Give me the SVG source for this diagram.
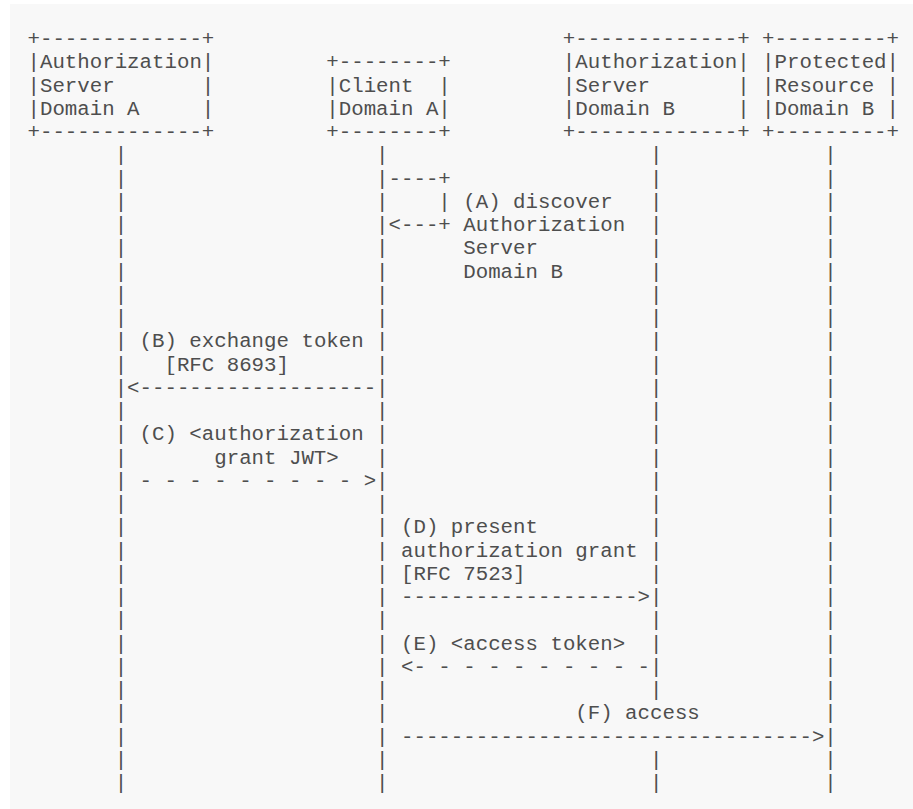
<svg xmlns="http://www.w3.org/2000/svg" width="913" height="809" viewBox="0 0 913 809" xml:space="preserve">
<style>
text{font-family:"Liberation Mono","DejaVu Sans Mono",monospace;font-size:20.75px;fill:#4e4e4e;white-space:pre}
</style>
<rect width="913" height="809" fill="#ffffff"/>
<rect x="10" y="4" width="903" height="805" fill="#f8f8f8"/>
<g id="as-domain-a">
<text x="27.5" y="45">+-------------+</text>
<text x="27.5" y="68.25">|Authorization|</text>
<text x="27.5" y="91.5">|Server       |</text>
<text x="27.5" y="114.75">|Domain A     |</text>
<text x="27.5" y="138">+-------------+</text>
</g>
<g id="client-domain-a">
<text x="326.3" y="68.25">+--------+</text>
<text x="326.3" y="91.5">|Client  |</text>
<text x="326.3" y="114.75">|Domain A|</text>
<text x="326.3" y="138">+--------+</text>
</g>
<g id="as-domain-b">
<text x="562.85" y="45">+-------------+</text>
<text x="562.85" y="68.25">|Authorization|</text>
<text x="562.85" y="91.5">|Server       |</text>
<text x="562.85" y="114.75">|Domain B     |</text>
<text x="562.85" y="138">+-------------+</text>
</g>
<g id="rs-domain-b">
<text x="762.05" y="45">+---------+</text>
<text x="762.05" y="68.25">|Protected|</text>
<text x="762.05" y="91.5">|Resource |</text>
<text x="762.05" y="114.75">|Domain B |</text>
<text x="762.05" y="138">+---------+</text>
</g>
<g id="connectors">
<text id="lifeline-as-a"><tspan x="114.65" y="161.25">|</tspan><tspan x="114.65" y="184.5">|</tspan><tspan x="114.65" y="207.75">|</tspan><tspan x="114.65" y="231">|</tspan><tspan x="114.65" y="254.25">|</tspan><tspan x="114.65" y="277.5">|</tspan><tspan x="114.65" y="300.75">|</tspan><tspan x="114.65" y="324">|</tspan><tspan x="114.65" y="347.25">|</tspan><tspan x="114.65" y="370.5">|</tspan><tspan x="114.65" y="393.75">|</tspan><tspan x="114.65" y="417">|</tspan><tspan x="114.65" y="440.25">|</tspan><tspan x="114.65" y="463.5">|</tspan><tspan x="114.65" y="486.75">|</tspan><tspan x="114.65" y="510">|</tspan><tspan x="114.65" y="533.25">|</tspan><tspan x="114.65" y="556.5">|</tspan><tspan x="114.65" y="579.75">|</tspan><tspan x="114.65" y="603">|</tspan><tspan x="114.65" y="626.25">|</tspan><tspan x="114.65" y="649.5">|</tspan><tspan x="114.65" y="672.75">|</tspan><tspan x="114.65" y="696">|</tspan><tspan x="114.65" y="719.25">|</tspan><tspan x="114.65" y="742.5">|</tspan><tspan x="114.65" y="765.75">|</tspan><tspan x="114.65" y="789">|</tspan></text>
<text id="lifeline-client"><tspan x="376.1" y="161.25">|</tspan><tspan x="376.1" y="184.5">|</tspan><tspan x="376.1" y="207.75">|</tspan><tspan x="376.1" y="231">|</tspan><tspan x="376.1" y="254.25">|</tspan><tspan x="376.1" y="277.5">|</tspan><tspan x="376.1" y="300.75">|</tspan><tspan x="376.1" y="324">|</tspan><tspan x="376.1" y="347.25">|</tspan><tspan x="376.1" y="370.5">|</tspan><tspan x="376.1" y="393.75">|</tspan><tspan x="376.1" y="417">|</tspan><tspan x="376.1" y="440.25">|</tspan><tspan x="376.1" y="463.5">|</tspan><tspan x="376.1" y="486.75">|</tspan><tspan x="376.1" y="510">|</tspan><tspan x="376.1" y="533.25">|</tspan><tspan x="376.1" y="556.5">|</tspan><tspan x="376.1" y="579.75">|</tspan><tspan x="376.1" y="603">|</tspan><tspan x="376.1" y="626.25">|</tspan><tspan x="376.1" y="649.5">|</tspan><tspan x="376.1" y="672.75">|</tspan><tspan x="376.1" y="696">|</tspan><tspan x="376.1" y="719.25">|</tspan><tspan x="376.1" y="742.5">|</tspan><tspan x="376.1" y="765.75">|</tspan><tspan x="376.1" y="789">|</tspan></text>
<text id="lifeline-as-b"><tspan x="650" y="161.25">|</tspan><tspan x="650" y="184.5">|</tspan><tspan x="650" y="207.75">|</tspan><tspan x="650" y="231">|</tspan><tspan x="650" y="254.25">|</tspan><tspan x="650" y="277.5">|</tspan><tspan x="650" y="300.75">|</tspan><tspan x="650" y="324">|</tspan><tspan x="650" y="347.25">|</tspan><tspan x="650" y="370.5">|</tspan><tspan x="650" y="393.75">|</tspan><tspan x="650" y="417">|</tspan><tspan x="650" y="440.25">|</tspan><tspan x="650" y="463.5">|</tspan><tspan x="650" y="486.75">|</tspan><tspan x="650" y="510">|</tspan><tspan x="650" y="533.25">|</tspan><tspan x="650" y="556.5">|</tspan><tspan x="650" y="579.75">|</tspan><tspan x="650" y="603">|</tspan><tspan x="650" y="626.25">|</tspan><tspan x="650" y="649.5">|</tspan><tspan x="650" y="672.75">|</tspan><tspan x="650" y="696">|</tspan><tspan x="650" y="765.75">|</tspan><tspan x="650" y="789">|</tspan></text>
<text id="lifeline-rs"><tspan x="824.3" y="161.25">|</tspan><tspan x="824.3" y="184.5">|</tspan><tspan x="824.3" y="207.75">|</tspan><tspan x="824.3" y="231">|</tspan><tspan x="824.3" y="254.25">|</tspan><tspan x="824.3" y="277.5">|</tspan><tspan x="824.3" y="300.75">|</tspan><tspan x="824.3" y="324">|</tspan><tspan x="824.3" y="347.25">|</tspan><tspan x="824.3" y="370.5">|</tspan><tspan x="824.3" y="393.75">|</tspan><tspan x="824.3" y="417">|</tspan><tspan x="824.3" y="440.25">|</tspan><tspan x="824.3" y="463.5">|</tspan><tspan x="824.3" y="486.75">|</tspan><tspan x="824.3" y="510">|</tspan><tspan x="824.3" y="533.25">|</tspan><tspan x="824.3" y="556.5">|</tspan><tspan x="824.3" y="579.75">|</tspan><tspan x="824.3" y="603">|</tspan><tspan x="824.3" y="626.25">|</tspan><tspan x="824.3" y="649.5">|</tspan><tspan x="824.3" y="672.75">|</tspan><tspan x="824.3" y="696">|</tspan><tspan x="824.3" y="719.25">|</tspan><tspan x="824.3" y="742.5">|</tspan><tspan x="824.3" y="765.75">|</tspan><tspan x="824.3" y="789">|</tspan></text>
<g id="arrow-a">
<text x="388.55" y="184.5">----+</text>
<text x="438.35" y="207.75">|</text>
<text x="388.55" y="231">&lt;---+</text>
</g>
<text id="arrow-b" x="127.1" y="393.75">&lt;-------------------</text>
<text id="arrow-c" x="139.55" y="486.75">- - - - - - - - - &gt;</text>
<text id="arrow-d" x="401" y="603">-------------------&gt;</text>
<text id="arrow-e" x="401" y="672.75">&lt;- - - - - - - - - -</text>
<text id="arrow-f" x="401" y="742.5">---------------------------------&gt;</text>
</g>
<g id="labels">
<text x="463.25" y="207.75">(A) discover</text>
<text x="463.25" y="231">Authorization</text>
<text x="463.25" y="254.25">Server</text>
<text x="463.25" y="277.5">Domain B</text>
<text x="139.55" y="347.25">(B) exchange token</text>
<text x="164.45" y="370.5">[RFC 8693]</text>
<text x="139.55" y="440.25">(C) &lt;authorization</text>
<text x="214.25" y="463.5">grant JWT&gt;</text>
<text x="401" y="533.25">(D) present</text>
<text x="401" y="556.5">authorization grant</text>
<text x="401" y="579.75">[RFC 7523]</text>
<text x="401" y="649.5">(E) &lt;access token&gt;</text>
<text x="575.3" y="719.25">(F) access</text>
</g>
</svg>
